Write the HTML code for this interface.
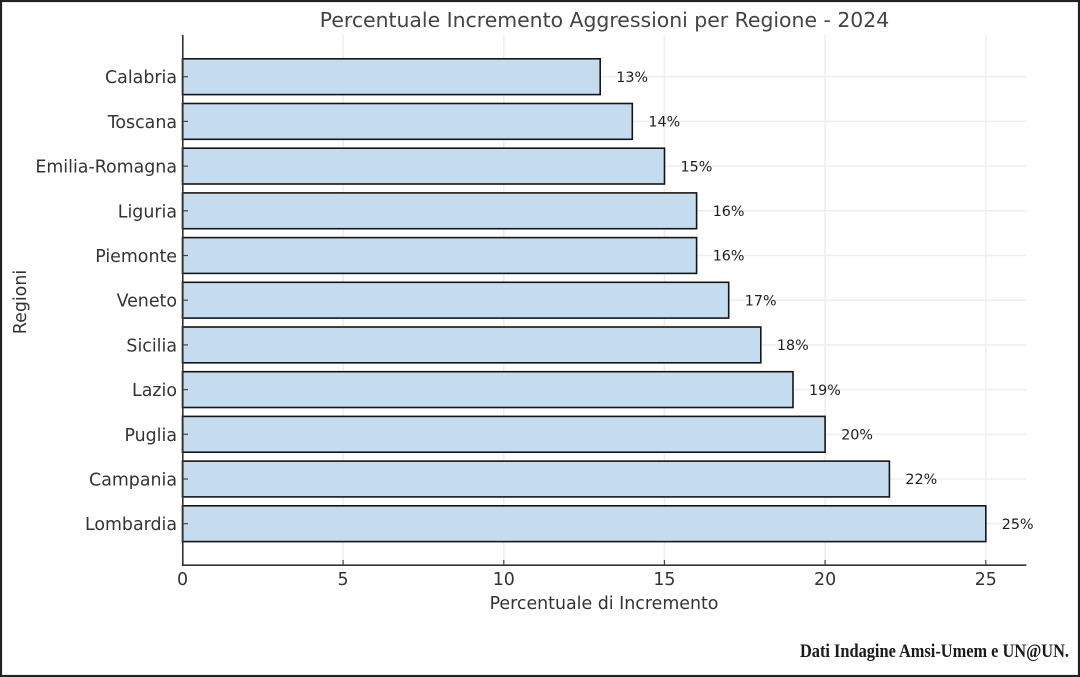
<!DOCTYPE html>
<html><head><meta charset="utf-8"><style>
html,body{margin:0;padding:0;background:#fff;}
svg{display:block;}
text{font-family:"DejaVu Sans","Liberation Sans",sans-serif;}
</style></head><body>
<svg width="1080" height="677" viewBox="0 0 1080 677" xmlns="http://www.w3.org/2000/svg">
<rect x="0" y="0" width="1080" height="677" fill="#fff"/>
<!-- gridlines -->
<g stroke="#efefef" stroke-width="1.6">
<line x1="182.5" y1="35" x2="182.5" y2="565"/>
<line x1="343.1" y1="35" x2="343.1" y2="565"/>
<line x1="503.8" y1="35" x2="503.8" y2="565"/>
<line x1="664.4" y1="35" x2="664.4" y2="565"/>
<line x1="825.1" y1="35" x2="825.1" y2="565"/>
<line x1="985.8" y1="35" x2="985.8" y2="565"/>
<line x1="183" y1="76.7" x2="1026" y2="76.7"/>
<line x1="183" y1="121.4" x2="1026" y2="121.4"/>
<line x1="183" y1="166.1" x2="1026" y2="166.1"/>
<line x1="183" y1="210.8" x2="1026" y2="210.8"/>
<line x1="183" y1="255.5" x2="1026" y2="255.5"/>
<line x1="183" y1="300.2" x2="1026" y2="300.2"/>
<line x1="183" y1="344.9" x2="1026" y2="344.9"/>
<line x1="183" y1="389.6" x2="1026" y2="389.6"/>
<line x1="183" y1="434.3" x2="1026" y2="434.3"/>
<line x1="183" y1="479.0" x2="1026" y2="479.0"/>
<line x1="183" y1="523.7" x2="1026" y2="523.7"/>
</g>
<!-- bars -->
<g fill="#c5dcef" stroke="#151515" stroke-width="1.6">
<rect x="182.5" y="58.8" width="417.7" height="35.8"/>
<rect x="182.5" y="103.5" width="449.8" height="35.8"/>
<rect x="182.5" y="148.2" width="482.0" height="35.8"/>
<rect x="182.5" y="192.9" width="514.1" height="35.8"/>
<rect x="182.5" y="237.6" width="514.1" height="35.8"/>
<rect x="182.5" y="282.3" width="546.2" height="35.8"/>
<rect x="182.5" y="327.0" width="578.3" height="35.8"/>
<rect x="182.5" y="371.7" width="610.5" height="35.8"/>
<rect x="182.5" y="416.4" width="642.6" height="35.8"/>
<rect x="182.5" y="461.1" width="706.9" height="35.8"/>
<rect x="182.5" y="505.8" width="803.3" height="35.8"/>
</g>
<!-- value labels -->
<g font-size="14.3" fill="#1e1e1e">
<text x="616.3" y="81.9">13%</text>
<text x="648.4" y="126.6">14%</text>
<text x="680.5" y="171.3">15%</text>
<text x="712.7" y="216.0">16%</text>
<text x="712.7" y="260.7">16%</text>
<text x="744.8" y="305.4">17%</text>
<text x="776.9" y="350.1">18%</text>
<text x="809.0" y="394.8">19%</text>
<text x="841.2" y="439.5">20%</text>
<text x="905.4" y="484.2">22%</text>
<text x="1001.8" y="528.9">25%</text>
</g>
<!-- spines -->
<g stroke="#333" stroke-width="1.6">
<line x1="182.8" y1="35" x2="182.8" y2="565.8"/>
<line x1="182" y1="565.2" x2="1026.3" y2="565.2"/>
</g>
<!-- ticks (inward) -->
<g stroke="#444" stroke-width="1.2">
<line x1="343.1" y1="565" x2="343.1" y2="560"/>
<line x1="503.8" y1="565" x2="503.8" y2="560"/>
<line x1="664.4" y1="565" x2="664.4" y2="560"/>
<line x1="825.1" y1="565" x2="825.1" y2="560"/>
<line x1="985.8" y1="565" x2="985.8" y2="560"/>
<line x1="183" y1="76.7" x2="188" y2="76.7"/>
<line x1="183" y1="121.4" x2="188" y2="121.4"/>
<line x1="183" y1="166.1" x2="188" y2="166.1"/>
<line x1="183" y1="210.8" x2="188" y2="210.8"/>
<line x1="183" y1="255.5" x2="188" y2="255.5"/>
<line x1="183" y1="300.2" x2="188" y2="300.2"/>
<line x1="183" y1="344.9" x2="188" y2="344.9"/>
<line x1="183" y1="389.6" x2="188" y2="389.6"/>
<line x1="183" y1="434.3" x2="188" y2="434.3"/>
<line x1="183" y1="479.0" x2="188" y2="479.0"/>
<line x1="183" y1="523.7" x2="188" y2="523.7"/>
</g>
<!-- y tick labels -->
<g font-size="17.4" fill="#333" text-anchor="end">
<text x="177" y="83.2">Calabria</text>
<text x="177" y="127.9">Toscana</text>
<text x="177" y="172.6">Emilia-Romagna</text>
<text x="177" y="217.3">Liguria</text>
<text x="177" y="262.0">Piemonte</text>
<text x="177" y="306.7">Veneto</text>
<text x="177" y="351.4">Sicilia</text>
<text x="177" y="396.1">Lazio</text>
<text x="177" y="440.8">Puglia</text>
<text x="177" y="485.5">Campania</text>
<text x="177" y="530.2">Lombardia</text>
</g>
<!-- x tick labels -->
<g font-size="17.4" fill="#333" text-anchor="middle">
<text x="182.5" y="585">0</text>
<text x="343.1" y="585">5</text>
<text x="503.8" y="585">10</text>
<text x="664.4" y="585">15</text>
<text x="825.1" y="585">20</text>
<text x="985.8" y="585">25</text>
</g>
<!-- axis labels -->
<text x="604" y="609" font-size="17.4" fill="#333" text-anchor="middle">Percentuale di Incremento</text>
<text transform="translate(26,302) rotate(-90)" font-size="17.4" fill="#333" text-anchor="middle">Regioni</text>
<!-- title -->
<text x="604.5" y="27" font-size="20.4" fill="#444" text-anchor="middle">Percentuale Incremento Aggressioni per Regione - 2024</text>
<!-- source -->
<text x="800" y="657" font-family="'Liberation Serif',serif" font-weight="bold" font-size="19" fill="#1a1a1a" textLength="269" lengthAdjust="spacingAndGlyphs" style="font-family:'Liberation Serif',serif">Dati Indagine Amsi-Umem e UN@UN.</text>
<!-- frame -->
<rect x="1" y="1" width="1078" height="675" fill="none" stroke="#222" stroke-width="2.2"/>
</svg>
</body></html>
